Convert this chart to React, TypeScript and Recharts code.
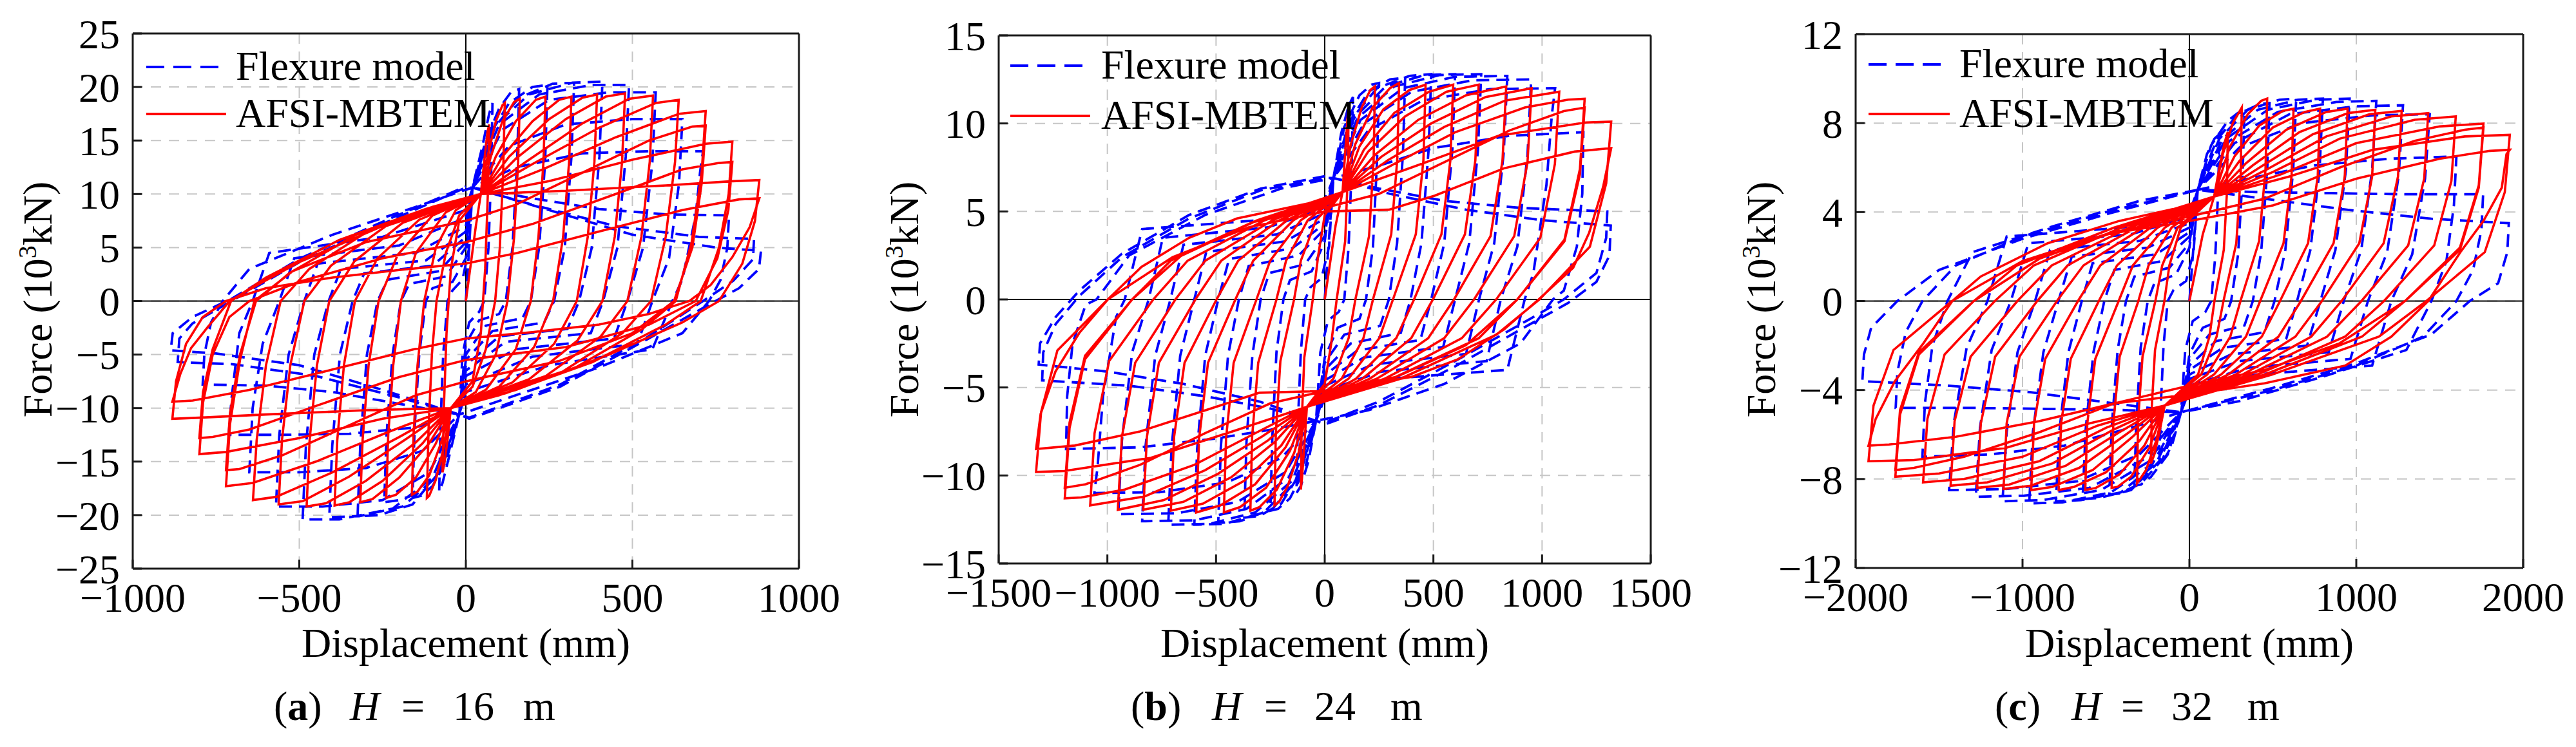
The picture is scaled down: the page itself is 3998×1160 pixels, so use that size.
import React from 'react';
import { ScatterChart, Scatter, XAxis, YAxis, CartesianGrid, ReferenceLine } from 'recharts';

const FONT = '"Liberation Serif", "Times New Roman", Times, serif';

// ---------- tick labels ----------
const X_TICKS_A = [-1000, -500, 0, 500, 1000];
const Y_TICKS_A = [-25, -20, -15, -10, -5, 0, 5, 10, 15, 20, 25];
const X_TICKS_B = [-1500, -1000, -500, 0, 500, 1000, 1500];
const Y_TICKS_B = [-15, -10, -5, 0, 5, 10, 15];
const X_TICKS_C = [-2000, -1000, 0, 1000, 2000];
const Y_TICKS_C = [-12, -8, -4, 0, 4, 8, 12];

// ---------- (a) H = 16 m : AFSI-MBTEM (x mm, y 10^3 kN), one row per cycle ----------
const RED_A: number[][] = [
  [0, 0, 30, 7, 45, 10],
  [55, 13, 65, 15.8, 70, 16.5, 66, 10, 58, 3, 45, -3, 20, -7.5, -45, -10, -55, -13, -65, -15.3, -70, -16, -66, -10, -58, -3, -45, 3, -20, 7.5, 45, 10],
  [65, 13.5, 90, 16.8, 110, 18.3, 117, 18.5, 112, 12, 102, 5, 88, 0, 60, -4.5, 20, -8, -45, -10, -65, -13.5, -90, -16.7, -110, -18.2, -117, -18.4, -112, -12, -102, -5, -88, 0, -60, 4.5, -20, 8, 45, 10],
  [75, 13.5, 110, 16.8, 145, 18.6, 162, 18.9, 157, 13, 145, 6, 125, 0, 90, -5, 30, -8.5, -45, -10, -75, -13.3, -110, -16.3, -145, -17.8, -162, -18.1, -157, -12.5, -145, -6, -125, 0, -90, 5, -30, 8.5, 45, 10],
  [90, 13.5, 150, 16.8, 210, 18.8, 239, 19.1, 233, 13, 218, 6, 195, 0, 150, -4.5, 60, -8.3, -45, -10, -90, -13.3, -150, -16.5, -210, -18.1, -239, -18.4, -233, -12.5, -218, -6, -195, 0, -150, 4.5, -60, 8.3, 45, 10],
  [110, 13.5, 200, 16.8, 280, 18.8, 317, 19.1, 310, 13, 292, 6, 262, 0, 205, -4.3, 100, -8, -45, -10, -110, -13.3, -200, -16.5, -280, -18.5, -317, -18.8, -310, -13, -292, -6, -262, 0, -205, 4.3, -100, 8, 45, 10],
  [130, 13.5, 250, 17, 350, 19, 394, 19.3, 386, 13, 366, 6, 333, 0, 265, -4, 140, -7.6, -45, -10, -130, -13.3, -250, -16.8, -350, -18.8, -394, -19.1, -386, -13, -366, -6, -333, 0, -265, 4, -140, 7.6, 45, 10],
  [150, 13.3, 300, 17, 420, 19.1, 478, 19.4, 469, 13, 447, 6, 410, 0, 335, -3.7, 190, -7.3, -45, -10, -150, -13.2, -300, -16.8, -420, -18.9, -478, -19.2, -469, -13, -447, -6, -410, 0, -335, 3.7, -190, 7.3, 45, 10],
  [180, 13, 350, 16.6, 490, 18.9, 562, 19.2, 552, 13, 527, 6, 485, 0, 405, -3.3, 240, -7, -45, -10, -180, -12.9, -350, -16.4, -490, -18.7, -562, -19, -552, -13, -527, -6, -485, 0, -405, 3.3, -240, 7, 45, 10],
  [200, 12.8, 400, 16.2, 570, 18.5, 639, 18.8, 628, 13, 600, 6, 556, 0, 470, -3, 290, -6.6, -45, -10, -200, -12.7, -400, -16, -570, -18.3, -639, -18.6, -628, -13, -600, -6, -556, 0, -470, 3, -290, 6.6, 45, 10],
  [230, 12.3, 450, 15.3, 640, 17.5, 720, 17.75, 708, 12, 678, 5.5, 630, 0, 530, -2.6, 330, -6.2, 100, -8.8, -45, -10, -230, -12.2, -450, -15, -640, -17, -720, -17.3, -708, -11.5, -678, -5.5, -635, 0, -520, 2.8, -300, 5.5, 0, 7.5, 150, 9, 350, 12, 550, 15, 680, 16.3, 720, 16.4, 708, 11, 680, 5, 625, 0, 500, -3, 280, -5.6, 0, -7.5, -150, -8.8, -350, -11.6, -550, -14.4, -680, -15.7, -720, -15.8, -708, -10.5, -678, -5, -630, 0, -530, 2.6, -330, 6.2, -100, 8.8, 45, 10],
  [250, 11.2, 500, 13.2, 720, 14.7, 800, 14.9, 789, 10, 760, 5, 705, 0, 600, -2.2, 380, -5.7, 120, -8.6, -45, -10, -250, -11, -500, -12.8, -720, -14.1, -800, -14.3, -789, -9.5, -760, -5, -710, -1.5, -650, 0, -500, 1.8, -250, 4, 0, 5.5, 200, 7.2, 450, 10, 650, 12.3, 760, 12.9, 800, 13, 788, 8.5, 755, 4, 690, 0, 550, -2.2, 300, -4.3, 0, -5.5, -200, -7.1, -450, -9.8, -650, -12, -760, -12.7, -800, -12.8, -789, -8.5, -760, -4.5, -705, 0, -600, 2.2, -380, 5.7, -120, 8.6, 45, 10],
  [300, 10.3, 600, 10.8, 800, 11.2, 881, 11.3, 868, 7.5, 830, 3.5, 760, 0, 650, -2, 430, -5, 150, -8.3, -45, -10, -300, -10.2, -600, -10.6, -800, -10.9, -881, -11, -870, -7.5, -840, -4, -790, -1.5, -720, 0, -600, 1.2, -400, 2.2, -200, 2.9, 0, 3.5, 155, 4.5, 400, 6.5, 650, 8.5, 820, 9.5, 881, 9.6, 852, 6.9, 800, 4.1, 735, 1.5, 671, 0, 550, -1.2, 400, -2.2, 200, -2.9, 0, -3.5, -155, -4.5, -400, -6.4, -650, -8.3, -820, -9.3, -881, -9.4, -857, -6.8, -825, -4.4, -774, -2.4, -709, 0, -626, 1.5, -496, 3.7, -236, 7.2, 0, 9.6, 45, 10],
];

// ---------- (a) Flexure model ----------
const BLUE_A: number[][] = [
  [0, 0, 10, 5, 20, 10.6],
  [50, 14.5, 70, 17.5, 80, 18.5, 76, 12, 68, 5, 55, 0, 40, -1, 10, -2, -10, -5, -20, -10.6, -50, -14.5, -70, -17, -80, -17.8, -76, -11.5, -68, -5, -55, 0, -40, 1, -10, 2, 10, 5, 20, 10.6],
  [60, 15, 100, 18, 135, 19.5, 160, 19.8, 154, 13, 140, 5, 120, 0, 100, -1.2, 40, -1.8, 0, -4, -20, -10.6, -60, -15, -100, -17.3, -135, -18.2, -160, -18.4, -154, -12, -140, -5, -120, 0, -100, 1.2, -40, 1.8, 0, 4, 20, 10.6],
  [70, 15.5, 130, 18.5, 200, 20, 245, 20.2, 238, 13, 220, 5, 195, 0, 170, -1.6, 60, -2.3, 0, -5, -20, -10.6, -70, -15.5, -130, -17.8, -200, -18.6, -245, -18.8, -238, -12.5, -220, -5, -195, 0, -170, 1.6, -60, 2.3, 0, 5, 20, 10.6],
  [80, 16, 160, 19, 260, 20.3, 325, 20.4, 317, 13.5, 297, 5, 265, 0, 235, -2, 80, -2.8, 0, -5.5, -20, -10.6, -80, -16, -160, -19, -260, -20, -325, -20.1, -317, -13.5, -297, -5, -265, 0, -235, 2, -80, 2.8, 0, 5.5, 20, 10.6],
  [90, 16.5, 190, 19.3, 320, 20.4, 410, 20.5, 401, 13.5, 378, 5, 340, 0, 305, -2.6, 100, -3.3, 0, -6, -20, -10.6, -90, -16.5, -190, -19.2, -320, -20.1, -410, -20.2, -401, -13.5, -378, -5, -340, 0, -305, 2.6, -100, 3.3, 0, 6, 20, 10.6],
  [100, 16.5, 220, 19.3, 380, 20.2, 490, 20.2, 480, 13.5, 455, 5, 412, 0, 375, -3, 120, -3.8, 0, -6.5, -20, -10.6, -100, -16.5, -220, -19.4, -380, -20.4, -490, -20.4, -480, -13.5, -455, -5, -412, 0, -375, 3, -120, 3.8, 0, 6.5, 20, 10.6],
  [110, 16, 250, 18.8, 430, 19.5, 570, 19.5, 560, 13, 532, 5, 485, 0, 445, -3.5, 150, -4.5, 0, -7, -20, -10.6, -110, -16, -250, -18.6, -430, -19.2, -570, -19.2, -560, -12.5, -532, -5, -485, 0, -445, 3.5, -150, 4.5, 0, 7, 20, 10.6],
  [130, 14.5, 300, 16.5, 500, 17, 650, 17, 640, 11, 610, 4, 560, 0, 515, -4, 200, -5.2, 0, -7.8, -20, -10.6, -130, -14, -300, -15.6, -500, -16, -650, -16, -640, -10, -610, -4, -560, 0, -515, 4, -200, 5.2, 0, 7.8, 20, 10.6],
  [150, 12.5, 350, 13.8, 550, 14, 712, 14, 703, 12, 690, 8, 650, 2, 620, 0, 560, -4.5, 250, -6, 0, -8.5, -20, -10.6, -150, -11.8, -350, -12.4, -550, -12.5, -712, -12.5, -703, -9, -680, -3, -640, 0, -590, 4.5, -250, 6, 0, 8.5, 20, 10.6],
  [200, 9.6, 400, 8.6, 600, 8.1, 790, 8, 785, 5, 765, 2, 730, 0, 650, -3, 400, -6.2, 150, -8.8, 0, -10.4, -20, -10.6, -200, -9.6, -400, -8.5, -600, -7.9, -790, -7.8, -785, -5, -765, -2, -730, 0, -650, 3, -400, 6.2, -150, 8.8, 0, 10.4, 20, 10.6],
  [200, 9, 450, 7, 700, 6, 865, 5.8, 862, 3.9, 803, 1.9, 712, 0, 543, -3.4, 283, -7.8, 10, -10.9, -20, -10.6, -200, -9, -450, -7, -700, -5.9, -865, -5.7, -860, -3.5, -821, -2.1, -704, 0, -496, 3.7, -236, 7.4, 0, 10.6, 20, 10.6],
  [250, 8.5, 500, 6.2, 750, 5, 886, 4.7, 880, 3, 820, 1.2, 720, -0.5, 543, -3.6, 283, -8, 10, -11, -20, -10.6, -250, -8.3, -500, -6, -750, -4.9, -886, -4.6, -880, -3, -821, -1.5, -704, 0.2, -496, 4, -236, 7.6, 0, 10.7],
];

// ---------- (b) H = 24 m : AFSI-MBTEM ----------
const RED_B: number[][] = [
  [0, 0, 50, 4.2, 82, 6.1],
  [95, 8.5, 105, 10.3, 110, 11, 106, 7, 94, 3.3, 55, 0, 30, -2.5, 0, -4.8, -82, -6.1, -95, -8.5, -105, -10.2, -110, -10.8, -106, -7, -94, -3.3, -55, 0, -30, 2.5, 0, 4.8, 82, 6.1],
  [120, 8.8, 170, 10.9, 210, 11.9, 231, 12.1, 225, 7.9, 204, 3.6, 141, 0, 110, -2.2, 40, -4.5, -82, -6.1, -120, -8.7, -170, -10.6, -210, -11.5, -231, -11.7, -225, -7.6, -204, -3.5, -141, 0, -110, 2.2, -40, 4.5, 82, 6.1],
  [140, 8.8, 220, 10.9, 300, 12, 342, 12.3, 334, 8, 306, 3.7, 222, 0, 178, -2.2, 78, -4.5, -82, -6.1, -140, -8.7, -220, -10.8, -300, -11.8, -342, -12, -334, -7.8, -306, -3.6, -222, 0, -178, 2.2, -78, 4.5, 82, 6.1],
  [160, 8.7, 270, 10.8, 390, 11.9, 464, 12.2, 454, 7.9, 419, 3.7, 314, 0, 251, -2.2, 110, -4.5, -82, -6.1, -160, -8.6, -270, -10.7, -390, -11.8, -464, -12.1, -454, -7.9, -419, -3.6, -314, 0, -251, 2.2, -110, 4.5, 82, 6.1],
  [180, 8.5, 320, 10.6, 480, 11.8, 591, 12.2, 578, 7.9, 537, 3.7, 411, 0, 329, -2.2, 144, -4.5, -82, -6.1, -180, -8.4, -320, -10.5, -480, -11.7, -591, -12.1, -578, -7.9, -537, -3.6, -411, 0, -329, 2.2, -144, 4.5, 82, 6.1],
  [200, 8.4, 370, 10.4, 560, 11.8, 708, 12.2, 693, 7.9, 645, 3.7, 498, 0, 398, -2.2, 174, -4.5, -82, -6.1, -200, -8.3, -370, -10.3, -560, -11.6, -708, -12, -693, -7.8, -645, -3.6, -498, 0, -398, 2.2, -174, 4.5, 82, 6.1],
  [230, 8.2, 430, 10.2, 650, 11.6, 835, 12.1, 818, 7.9, 763, 3.6, 595, 0, 476, -2.2, 208, -4.5, -82, -6.1, -230, -8.1, -430, -10.1, -650, -11.5, -835, -11.95, -818, -7.8, -763, -3.6, -595, 0, -476, 2.2, -208, 4.5, 82, 6.1],
  [260, 8.1, 490, 10, 740, 11.5, 952, 12, 933, 7.8, 872, 3.6, 687, 0, 550, -2.2, 240, -4.5, -82, -6.1, -260, -8, -490, -9.9, -740, -11.4, -952, -11.95, -933, -7.8, -872, -3.6, -687, 0, -550, 2.2, -240, 4.5, 82, 6.1],
  [290, 7.9, 550, 9.8, 830, 11.3, 1079, 11.8, 1059, 7.7, 992, 3.5, 789, 0, 631, -2.2, 276, -4.5, -82, -6.1, -290, -7.8, -550, -9.7, -830, -11.2, -1079, -11.7, -1059, -7.6, -992, -3.5, -789, 0, -631, 2.2, -276, 4.5, 82, 6.1],
  [320, 7.7, 600, 9.5, 920, 10.9, 1120, 11.35, 1196, 11.4, 1174, 7.4, 1103, 3.4, 886, 0, 709, -2.2, 310, -4.5, -82, -6.1, -320, -7.6, -600, -9.4, -920, -10.8, -1120, -11.25, -1196, -11.3, -1174, -7.3, -1103, -3.4, -886, 0, -650, 2.6, -330, 4.4, 0, 5.2, 250, 6, 550, 7.8, 850, 9.6, 1100, 10.7, 1196, 10.9, 1174, 7.1, 1103, 3.3, 886, 0, 650, -2.6, 330, -4.4, 0, -5.2, -250, -5.9, -550, -7.6, -850, -9.4, -1100, -10.5, -1196, -10.7, -1174, -7, -1103, -3.2, -886, 0, -709, 2.2, -310, 4.5, 82, 6.1],
  [400, 7.5, 800, 9.3, 1200, 10.05, 1318, 10.1, 1295, 6.6, 1220, 3, 988, 0, 790, -2, 350, -4.5, -82, -6.1, -400, -7.4, -800, -9, -1200, -9.75, -1328, -9.8, -1305, -6.4, -1230, -2.9, -998, 0, -700, 2.4, -350, 4.1, 0, 5, 295, 5.1, 507, 5.9, 825, 7.45, 1150, 8.4, 1318, 8.6, 1281, 6.4, 1217, 3.8, 1143, 1.8, 984, 0, 825, -1.7, 613, -3.4, 400, -4.4, 0, -5.2, -300, -5.3, -550, -6.3, -850, -7.5, -1150, -8.3, -1328, -8.5, -1307, -6.5, -1239, -4.1, -1129, -1.9, -998, 0, -843, 1.85, -624, 3.5, -404, 4.6, 0, 5.65, 82, 6.1],
];

// ---------- (b) Flexure model ----------
const BLUE_B: number[][] = [
  [0, 0, 20, 3.5, 40, 6.9],
  [75, 9.4, 110, 11, 130, 11.5, 124, 7.5, 110, 3, 90, 0, 65, -0.7, 15, -1.2, -20, -3, -40, -6.9, -75, -9.2, -110, -10.6, -130, -11, -124, -7.2, -110, -3, -90, 0, -65, 0.7, -15, 1.2, 20, 3, 40, 6.9],
  [90, 9.8, 160, 11.6, 215, 12.2, 250, 12.3, 241, 8, 222, 3, 190, 0, 160, -1.1, 60, -1.6, 0, -3.3, -40, -6.9, -90, -9.6, -160, -11.3, -215, -11.9, -250, -12, -241, -7.8, -222, -3, -190, 0, -160, 1.1, -60, 1.6, 0, 3.3, 40, 6.9],
  [110, 10, 200, 11.8, 300, 12.5, 370, 12.6, 360, 8.3, 333, 3.2, 295, 0, 255, -1.5, 90, -2, 0, -3.6, -40, -6.9, -110, -9.8, -200, -11.6, -300, -12.3, -370, -12.4, -360, -8.1, -333, -3.2, -295, 0, -255, 1.5, -90, 2, 0, 3.6, 40, 6.9],
  [120, 10.2, 240, 12, 390, 12.7, 490, 12.8, 478, 8.5, 445, 3.2, 395, 0, 350, -1.9, 120, -2.5, 0, -4, -40, -6.9, -120, -10.1, -240, -11.9, -390, -12.6, -490, -12.7, -478, -8.4, -445, -3.2, -395, 0, -350, 1.9, -120, 2.5, 0, 4, 40, 6.9],
  [135, 10.3, 280, 12.1, 460, 12.75, 600, 12.8, 587, 8.5, 550, 3.2, 490, 0, 440, -2.3, 150, -2.9, 0, -4.3, -40, -6.9, -135, -10.3, -280, -12.1, -460, -12.75, -600, -12.8, -587, -8.5, -550, -3.2, -490, 0, -440, 2.3, -150, 2.9, 0, 4.3, 40, 6.9],
  [150, 10.3, 320, 12.1, 530, 12.75, 720, 12.8, 705, 8.5, 665, 3.2, 600, 0, 545, -2.7, 180, -3.3, 0, -4.6, -40, -6.9, -150, -10.3, -320, -12.1, -530, -12.75, -720, -12.8, -705, -8.5, -665, -3.2, -600, 0, -545, 2.7, -180, 3.3, 0, 4.6, 40, 6.9],
  [165, 10.2, 360, 12, 600, 12.65, 840, 12.7, 824, 8.4, 780, 3.2, 710, 0, 650, -3.1, 220, -3.7, 0, -4.9, -40, -6.9, -165, -10.1, -360, -11.9, -600, -12.55, -840, -12.6, -824, -8.3, -780, -3.2, -710, 0, -650, 3.1, -220, 3.7, 0, 4.9, 40, 6.9],
  [180, 10, 400, 11.8, 680, 12.45, 950, 12.5, 933, 8.2, 886, 3, 810, 0, 745, -3.5, 260, -4.1, 0, -5.2, -40, -6.9, -180, -9.8, -400, -11.5, -680, -12.15, -950, -12.2, -933, -8, -886, -3, -810, 0, -745, 3.5, -260, 4.1, 0, 5.2, 40, 6.9],
  [200, 9.6, 450, 11.3, 760, 11.95, 1060, 12, 1045, 10.5, 1020, 6.5, 960, 1.5, 920, 0, 840, -4, 300, -4.5, 0, -5.6, -40, -6.9, -200, -9, -450, -10.4, -760, -10.95, -1060, -11, -1045, -9.5, -1020, -5.5, -960, -1, -920, 0, -840, 4, -300, 4.5, 0, 5.6, 40, 6.9],
  [250, 7.6, 500, 8.6, 850, 9.3, 1190, 9.5, 1185, 6, 1160, 3, 1100, 0.5, 1050, 0, 900, -2.5, 550, -4.8, 200, -6.3, -40, -6.9, -250, -7.4, -500, -7.9, -850, -8.4, -1190, -8.5, -1185, -5.5, -1160, -2.5, -1100, -0.3, -1050, 0, -900, 2.5, -550, 4.8, -200, 6.3, 40, 6.9],
  [250, 6.3, 550, 5.6, 900, 5.2, 1300, 5, 1295, 3.5, 1250, 1.5, 1100, 0, 931, -1.2, 600, -3.5, 250, -5.8, 0, -7, -40, -6.9, -250, -6.2, -550, -5.5, -900, -4.9, -1300, -4.6, -1295, -3, -1238, -1.4, -1129, 0.2, -933, 2.4, -624, 4.6, -294, 6.2, 0, 6.9, 40, 6.9],
  [300, 6, 650, 5.1, 1000, 4.5, 1316, 4.2, 1310, 2.5, 1250, 1, 1120, -0.2, 931, -1.5, 600, -3.8, 250, -6, 0, -7.1, -40, -6.9, -300, -5.8, -650, -4.8, -1000, -4.1, -1316, -3.7, -1310, -2.5, -1238, -1, -1129, 0.5, -933, 2.6, -624, 4.8, -294, 6.3, 0, 7],
];

// ---------- (c) H = 32 m : AFSI-MBTEM ----------
const RED_C: number[][] = [
  [0, 0, 80, 3, 148, 4.7],
  [180, 6, 210, 7.1, 230, 7.6, 225, 4.9, 206, 2.3, 150, 0, 120, -1.6, 52, -3.3, -148, -4.7, -180, -5.9, -210, -6.9, -230, -7.3, -225, -4.7, -206, -2.2, -150, 0, -120, 1.6, -52, 3.3, 148, 4.7],
  [200, 6.6, 260, 8, 314, 8.7, 307, 5.6, 281, 2.6, 204, 0, 163, -1.6, 71, -3.3, -148, -4.7, -200, -6.3, -260, -7.6, -314, -8.2, -307, -5.3, -281, -2.5, -204, 0, -163, 1.6, -71, 3.3, 148, 4.7],
  [240, 6.9, 350, 8.4, 430, 9, 466, 9.1, 456, 5.9, 418, 2.7, 306, 0, 245, -1.6, 107, -3.3, -148, -4.7, -240, -6.6, -350, -7.9, -430, -8.35, -466, -8.4, -456, -5.5, -418, -2.5, -306, 0, -245, 1.6, -107, 3.3, 148, 4.7],
  [270, 6.5, 420, 7.9, 560, 8.55, 624, 8.65, 612, 5.6, 564, 2.6, 424, 0, 339, -1.6, 148, -3.3, -148, -4.7, -270, -6.5, -420, -7.8, -560, -8.4, -624, -8.5, -612, -5.5, -564, -2.6, -424, 0, -339, 1.6, -148, 3.3, 148, 4.7],
  [300, 6.3, 500, 7.8, 690, 8.5, 783, 8.65, 769, 5.6, 711, 2.6, 543, 0, 434, -1.6, 190, -3.3, -148, -4.7, -300, -6.3, -500, -7.7, -690, -8.35, -783, -8.5, -769, -5.5, -711, -2.6, -543, 0, -434, 1.6, -190, 3.3, 148, 4.7],
  [340, 6.2, 580, 7.7, 820, 8.5, 948, 8.65, 931, 5.6, 864, 2.6, 668, 0, 534, -1.6, 234, -3.3, -148, -4.7, -340, -6.1, -580, -7.6, -820, -8.35, -948, -8.5, -931, -5.5, -864, -2.6, -668, 0, -534, 1.6, -234, 3.3, 148, 4.7],
  [380, 6.1, 660, 7.6, 950, 8.45, 1114, 8.6, 1095, 5.6, 1018, 2.6, 794, 0, 635, -1.6, 278, -3.3, -148, -4.7, -380, -6, -660, -7.5, -950, -8.3, -1114, -8.45, -1095, -5.5, -1018, -2.5, -794, 0, -635, 1.6, -278, 3.3, 148, 4.7],
  [420, 6, 740, 7.5, 1080, 8.4, 1272, 8.55, 1250, 5.6, 1164, 2.6, 912, 0, 730, -1.6, 319, -3.3, -148, -4.7, -420, -5.9, -740, -7.4, -1080, -8.25, -1272, -8.4, -1250, -5.5, -1164, -2.5, -912, 0, -730, 1.6, -319, 3.3, 148, 4.7],
  [460, 5.9, 820, 7.4, 1210, 8.3, 1431, 8.45, 1407, 5.5, 1311, 2.5, 1031, 0, 825, -1.6, 361, -3.3, -148, -4.7, -460, -5.8, -820, -7.3, -1210, -8.15, -1431, -8.3, -1407, -5.4, -1311, -2.5, -1031, 0, -825, 1.6, -361, 3.3, 148, 4.7],
  [500, 5.8, 900, 7.3, 1350, 8.15, 1596, 8.3, 1570, 5.4, 1467, 2.5, 1166, 0, 933, -1.6, 408, -3.3, -148, -4.7, -500, -5.7, -900, -7.2, -1350, -8, -1596, -8.15, -1570, -5.3, -1467, -2.4, -1166, 0, -933, 1.6, -408, 3.3, 148, 4.7],
  [550, 5.7, 1000, 7.1, 1500, 7.85, 1762, 7.98, 1734, 5.2, 1621, 2.4, 1292, 0, 1034, -1.6, 452, -3.3, -148, -4.7, -550, -5.6, -1000, -7, -1500, -7.75, -1762, -7.9, -1734, -5.1, -1621, -2.4, -1292, 0, -900, 1.9, -450, 3.1, 0, 3.8, 450, 4.6, 900, 6, 1350, 7.2, 1650, 7.7, 1762, 7.8, 1734, 5.1, 1621, 2.3, 1292, 0, 900, -1.9, 450, -3.1, 0, -3.8, -450, -4.6, -900, -5.9, -1350, -7, -1650, -7.5, -1762, -7.6, -1734, -4.9, -1621, -2.3, -1292, 0, -1034, 1.6, -452, 3.3, 148, 4.7],
  [600, 5.6, 1100, 6.8, 1650, 7.4, 1920, 7.47, 1890, 4.9, 1770, 2.2, 1420, 0, 1136, -1.6, 497, -3.3, -148, -4.7, -600, -5.5, -1100, -6.6, -1650, -7.15, -1923, -7.2, -1893, -4.7, -1773, -2.2, -1423, 0, -1000, 1.8, -500, 3, 0, 3.6, 500, 4.3, 1000, 5.5, 1500, 6.4, 1800, 6.75, 1920, 6.8, 1900, 6.6, 1872, 5.1, 1762, 3.6, 1624, 2.2, 1431, 0, 1210, -1.6, 934, -2.9, 450, -3.7, 0, -4.2, -450, -4.6, -900, -5.4, -1400, -6.1, -1800, -6.45, -1923, -6.5, -1880, -5.3, -1765, -3.6, -1594, -1.9, -1421, 0, -1251, 1.1, -849, 2.6, -421, 3.6, 0, 4.3, 148, 4.7],
];

// ---------- (c) Flexure model ----------
const BLUE_C: number[][] = [
  [0, 0, 25, 2.5, 50, 5],
  [105, 6.6, 150, 7.3, 180, 7.5, 172, 4.9, 155, 2, 130, 0, 95, -0.5, 20, -0.9, -25, -2.2, -50, -5, -105, -6.5, -150, -7.1, -180, -7.3, -172, -4.8, -155, -2, -130, 0, -95, 0.5, -20, 0.9, 25, 2.2, 50, 5],
  [130, 7, 230, 8.1, 290, 8.45, 330, 8.5, 318, 5.5, 292, 2.1, 250, 0, 210, -0.8, 80, -1.2, 0, -2.4, -50, -5, -130, -6.9, -230, -7.9, -290, -8.25, -330, -8.3, -318, -5.4, -292, -2.1, -250, 0, -210, 0.8, -80, 1.2, 0, 2.4, 50, 5],
  [160, 7.2, 290, 8.4, 420, 8.85, 480, 8.9, 466, 5.8, 430, 2.2, 380, 0, 330, -1.1, 120, -1.5, 0, -2.6, -50, -5, -160, -7.1, -290, -8.2, -420, -8.65, -480, -8.7, -466, -5.7, -430, -2.2, -380, 0, -330, 1.1, -120, 1.5, 0, 2.6, 50, 5],
  [180, 7.3, 350, 8.6, 540, 9.05, 640, 9.1, 622, 5.9, 575, 2.3, 510, 0, 450, -1.4, 160, -1.8, 0, -2.9, -50, -5, -180, -7.2, -350, -8.5, -540, -8.85, -640, -8.9, -622, -5.8, -575, -2.3, -510, 0, -450, 1.4, -160, 1.8, 0, 2.9, 50, 5],
  [200, 7.3, 410, 8.6, 650, 9.05, 800, 9.1, 780, 5.9, 725, 2.3, 645, 0, 580, -1.7, 200, -2.1, 0, -3.1, -50, -5, -200, -7.3, -410, -8.6, -650, -8.95, -800, -9, -780, -5.9, -725, -2.3, -645, 0, -580, 1.7, -200, 2.1, 0, 3.1, 50, 5],
  [220, 7.3, 470, 8.6, 760, 9.05, 960, 9.1, 938, 5.9, 875, 2.3, 785, 0, 705, -2, 250, -2.4, 0, -3.3, -50, -5, -220, -7.3, -470, -8.6, -760, -9.05, -960, -9.1, -938, -5.9, -875, -2.3, -785, 0, -705, 2, -250, 2.4, 0, 3.3, 50, 5],
  [240, 7.2, 530, 8.5, 880, 8.95, 1120, 9, 1095, 5.9, 1030, 2.3, 925, 0, 835, -2.3, 300, -2.7, 0, -3.5, -50, -5, -240, -7.2, -530, -8.5, -880, -8.95, -1120, -9, -1095, -5.9, -1030, -2.3, -925, 0, -835, 2.3, -300, 2.7, 0, 3.5, 50, 5],
  [270, 7.1, 600, 8.4, 990, 8.75, 1280, 8.8, 1255, 5.7, 1185, 2.2, 1070, 0, 965, -2.6, 350, -3, 0, -3.8, -50, -5, -270, -7.1, -600, -8.4, -990, -8.75, -1280, -8.8, -1255, -5.7, -1185, -2.2, -1070, 0, -965, 2.6, -350, 3, 0, 3.8, 50, 5],
  [300, 6.9, 670, 8, 1100, 8.35, 1440, 8.4, 1412, 5.5, 1335, 2.1, 1210, 0, 1095, -2.9, 400, -3.3, 0, -4, -50, -5, -300, -6.9, -670, -8.1, -1100, -8.45, -1440, -8.5, -1412, -5.5, -1335, -2.1, -1210, 0, -1095, 2.9, -400, 3.3, 0, 4, 50, 5],
  [350, 5.5, 750, 6.1, 1200, 6.4, 1600, 6.5, 1585, 4.3, 1540, 1.8, 1450, 0, 1300, -2.2, 800, -3.4, 300, -4.5, -50, -5, -350, -5.7, -750, -6.5, -1200, -6.9, -1600, -7, -1585, -4.6, -1540, -2, -1450, 0, -1300, 2.2, -800, 3.4, -300, 4.5, 50, 5],
  [400, 4.9, 850, 4.85, 1300, 4.8, 1760, 4.8, 1750, 3.2, 1700, 1.4, 1600, 0, 1400, -1.6, 1000, -2.9, 500, -4, 0, -4.9, -50, -5, -400, -4.9, -850, -4.85, -1300, -4.8, -1760, -4.8, -1750, -3.2, -1700, -1.4, -1600, 0, -1400, 1.6, -1000, 2.9, -500, 4, 0, 4.9, 50, 5],
  [450, 4.6, 950, 4.1, 1450, 3.7, 1914, 3.5, 1905, 2.2, 1850, 0.8, 1680, 0, 1450, -1.5, 1000, -2.8, 500, -3.9, 0, -4.9, -50, -5, -450, -4.6, -950, -4.1, -1450, -3.8, -1960, -3.6, -1950, -2.4, -1907, -1.2, -1750, 0, -1500, 1.4, -1000, 2.8, -500, 3.9, 0, 4.9],
];

// ---------- helpers ----------
type Pt = { x: number; y: number };
const toPoints = (segs: number[][]): Pt[] => {
  const out: Pt[] = [];
  segs.forEach((s) => {
    for (let i = 0; i + 1 < s.length; i += 2) out.push({ x: s[i], y: s[i + 1] });
  });
  return out;
};
const fmt = (v: number) => (v < 0 ? '\u2212' + Math.abs(v) : String(v));
const NoShape = () => <g />;

interface PanelCfg {
  left: number;
  width: number;
  top: number;
  right: number;
  bottom: number;
  yAxisWidth: number;
  xDomain: [number, number];
  yDomain: [number, number];
  xTicks: number[];
  yTicks: number[];
  red: number[][];
  blue: number[][];
}

// plot areas: (a) x 206-1240, y 52-883; (b) x 1550-2562, y 55-875; (c) x 2880-3916, y 53-882
const PANELS: PanelCfg[] = [
  { left: 0, width: 1320, top: 52, right: 80, bottom: 1160 - 883 - 60, yAxisWidth: 206, xDomain: [-1000, 1000], yDomain: [-25, 25], xTicks: X_TICKS_A, yTicks: Y_TICKS_A, red: RED_A, blue: BLUE_A },
  { left: 1330, width: 1320, top: 55, right: 88, bottom: 1160 - 875 - 60, yAxisWidth: 220, xDomain: [-1500, 1500], yDomain: [-15, 15], xTicks: X_TICKS_B, yTicks: Y_TICKS_B, red: RED_B, blue: BLUE_B },
  { left: 2660, width: 1338, top: 53, right: 82, bottom: 1160 - 882 - 60, yAxisWidth: 220, xDomain: [-2000, 2000], yDomain: [-12, 12], xTicks: X_TICKS_C, yTicks: Y_TICKS_C, red: RED_C, blue: BLUE_C },
];

const tickStyle = { fontSize: 64, fontFamily: FONT, fill: '#000' };
const axisLineStyle = { stroke: '#1a1a1a', strokeWidth: 3 };

function Panel({ cfg }: { cfg: PanelCfg }) {
  const blue = toPoints(cfg.blue);
  const red = toPoints(cfg.red);
  return (
    <div style={{ position: 'absolute', left: cfg.left, top: 0 }}>
      <ScatterChart
        width={cfg.width}
        height={1160}
        margin={{ top: cfg.top, right: cfg.right, bottom: cfg.bottom, left: 0 }}
      >
        <CartesianGrid stroke="#c6c6c6" strokeWidth={2} strokeDasharray="16 12" />
        <XAxis
          type="number"
          dataKey="x"
          domain={cfg.xDomain}
          ticks={cfg.xTicks}
          interval={0}
          allowDataOverflow
          height={60}
          tickSize={-14}
          tickMargin={36}
          tickFormatter={fmt}
          tick={tickStyle}
          axisLine={axisLineStyle}
          tickLine={axisLineStyle}
        />
        <YAxis
          type="number"
          dataKey="y"
          domain={cfg.yDomain}
          ticks={cfg.yTicks}
          interval={0}
          allowDataOverflow
          width={cfg.yAxisWidth}
          tickSize={-14}
          tickMargin={34}
          tickFormatter={fmt}
          tick={tickStyle}
          axisLine={axisLineStyle}
          tickLine={axisLineStyle}
        />
        <ReferenceLine x={0} stroke="#000" strokeWidth={2} />
        <ReferenceLine y={0} stroke="#000" strokeWidth={2} />
        <Scatter
          data={blue}
          fill="#0000ff"
          shape={NoShape}
          line={{ stroke: '#0000ff', strokeWidth: 3.8, strokeDasharray: '20 11' }}
          isAnimationActive={false}
          legendType="none"
        />
        <Scatter
          data={red}
          fill="#ff0000"
          shape={NoShape}
          line={{ stroke: '#ff0000', strokeWidth: 3.6 }}
          isAnimationActive={false}
          legendType="none"
        />
        <ReferenceLine x={cfg.xDomain[1]} stroke="#1a1a1a" strokeWidth={3} />
        <ReferenceLine y={cfg.yDomain[1]} stroke="#1a1a1a" strokeWidth={3} />
      </ScatterChart>
    </div>
  );
}

// text placement (page coordinates)
const LEGENDS = [
  { x0: 227, x1: 351, r1: 104, r2: 177, tx: 366 },
  { x0: 1568, x1: 1692, r1: 102, r2: 180, tx: 1709 },
  { x0: 2900, x1: 3026, r1: 100, r2: 177, tx: 3041 },
];
const Y_LABEL_X = [80, 1425, 2755];
const X_TITLE_CX = [723, 2056, 3398];
const CAPTIONS = [
  { letter: 'a', h: '16', xs: [425, 543, 623, 703, 812] },
  { letter: 'b', h: '24', xs: [1755, 1881, 1962, 2040, 2158] },
  { letter: 'c', h: '32', xs: [3096, 3215, 3292, 3370, 3488] },
];

export default function App() {
  return (
    <div style={{ position: 'absolute', left: 0, top: 0, width: 3998, height: 1160, background: '#fff', overflow: 'hidden' }}>
      {PANELS.map((p, i) => (
        <Panel key={i} cfg={p} />
      ))}
      <svg
        width={3998}
        height={1160}
        style={{ position: 'absolute', left: 0, top: 0, pointerEvents: 'none' }}
        fontFamily={FONT}
      >
        {LEGENDS.map((l, i) => (
          <g key={'lg' + i}>
            <line x1={l.x0} x2={l.x1} y1={l.r1} y2={l.r1} stroke="#0000ff" strokeWidth={4} strokeDasharray="28 14" />
            <text x={l.tx} y={l.r1 + 20} fontSize={64} fill="#000">Flexure model</text>
            <line x1={l.x0} x2={l.x1} y1={l.r2} y2={l.r2} stroke="#ff0000" strokeWidth={4} />
            <text x={l.tx} y={l.r2 + 20} fontSize={64} fill="#000">AFSI-MBTEM</text>
          </g>
        ))}
        {Y_LABEL_X.map((bx, i) => (
          <text key={'yl' + i} transform={`translate(${bx},465) rotate(-90)`} textAnchor="middle" fontSize={64} fill="#000">
            Force (10<tspan fontSize={40} dy={-24}>3</tspan><tspan dy={24}>kN)</tspan>
          </text>
        ))}
        {X_TITLE_CX.map((cx, i) => (
          <text key={'xt' + i} x={cx} y={1020} textAnchor="middle" fontSize={64} fill="#000">
            Displacement (mm)
          </text>
        ))}
        {CAPTIONS.map((c, i) => (
          <g key={'cap' + i} fontSize={64} fill="#000">
            <text x={c.xs[0]} y={1118}>(<tspan fontWeight="bold">{c.letter}</tspan>)</text>
            <text x={c.xs[1]} y={1118} fontStyle="italic">H</text>
            <text x={c.xs[2]} y={1118}>=</text>
            <text x={c.xs[3]} y={1118}>{c.h}</text>
            <text x={c.xs[4]} y={1118}>m</text>
          </g>
        ))}
      </svg>
    </div>
  );
}
